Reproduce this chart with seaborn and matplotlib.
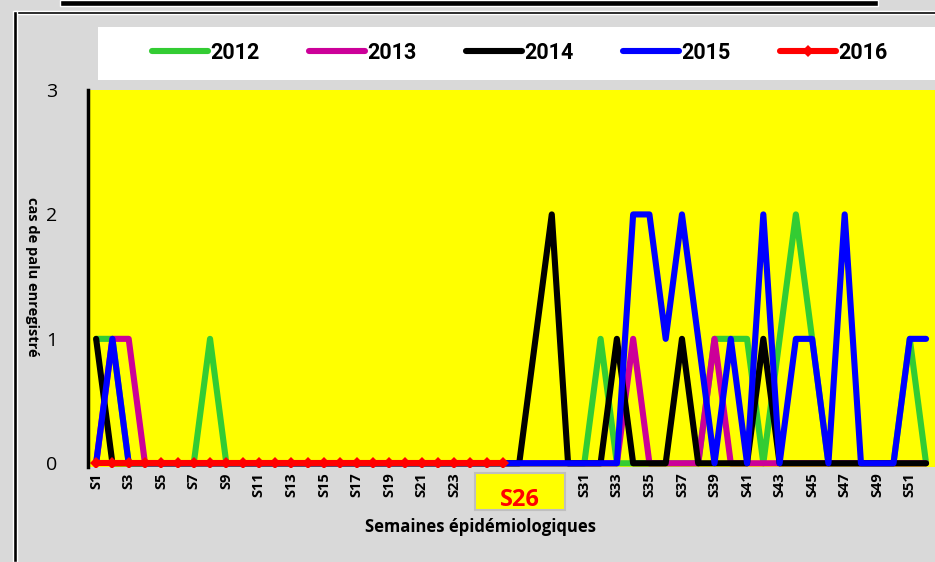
import matplotlib
matplotlib.use("Agg")
import matplotlib.pyplot as plt
import seaborn as sns
from matplotlib.patches import Rectangle

# données : cas de palu par semaine épidémiologique
semaines = list(range(1, 53))
cas_2012 = [1, 1, 0, 0, 0, 0, 0, 1, 0, 0,
            0, 0, 0, 0, 0, 0, 0, 0, 0, 0,
            0, 0, 0, 0, 0, 0, 0, 0, 0, 0,
            0, 1, 0, 0, 0, 0, 0, 0, 1, 1,
            1, 0, 1, 2, 1, 0, 0, 0, 0, 0,
            1, 0]
cas_2013 = [0, 1, 1, 0, 0, 0, 0, 0, 0, 0,
            0, 0, 0, 0, 0, 0, 0, 0, 0, 0,
            0, 0, 0, 0, 0, 0, 0, 0, 0, 0,
            0, 0, 0, 1, 0, 0, 0, 0, 1, 0,
            0, 0, 0, 0, 0, 0, 0, 0, 0, 0,
            0, 0]
cas_2014 = [1, 0, 0, 0, 0, 0, 0, 0, 0, 0,
            0, 0, 0, 0, 0, 0, 0, 0, 0, 0,
            0, 0, 0, 0, 0, 0, 0, 1, 2, 0,
            0, 0, 1, 0, 0, 0, 1, 0, 0, 0,
            0, 1, 0, 0, 0, 0, 0, 0, 0, 0,
            0, 0]
cas_2015 = [0, 1, 0, 0, 0, 0, 0, 0, 0, 0,
            0, 0, 0, 0, 0, 0, 0, 0, 0, 0,
            0, 0, 0, 0, 0, 0, 0, 0, 0, 0,
            0, 0, 0, 2, 2, 1, 2, 1, 0, 1,
            0, 2, 0, 1, 1, 0, 2, 0, 0, 0,
            1, 1]
semaines_2016 = list(range(1, 27))
cas_2016 = [0] * 26

annees = ['2012', '2013', '2014', '2015']
couleurs = ['#33cc33', '#cc0099', '#000000', '#0000ff']

tick_semaines = [1, 3, 5, 7, 9, 11, 13, 15, 17, 19, 21, 23,
                 31, 33, 35, 37, 39, 41, 43, 45, 47, 49, 51]
tick_labels = ['S' + str(s) for s in tick_semaines]

sns.set_style("white")
plt.rcParams['font.family'] = ['Open Sans', 'DejaVu Sans']
plt.rcParams['text.color'] = 'black'
plt.rcParams['xtick.color'] = 'black'
plt.rcParams['ytick.color'] = 'black'

fig = plt.figure(figsize=(9.35, 5.62), dpi=100)
fig.patch.set_facecolor('#d9d9d9')
ax = fig.add_axes([88 / 935, 1 - 467 / 562, 1 - 88 / 935, (467 - 90) / 562])
ax.set_facecolor('#ffff00')

for annee, cas, c in zip(annees, [cas_2012, cas_2013, cas_2014, cas_2015], couleurs):
    sns.lineplot(x=semaines, y=cas, color=c, lw=4.4, label=annee, ax=ax,
                 solid_joinstyle='round', solid_capstyle='round')
sns.lineplot(x=semaines_2016, y=cas_2016, color='#ff0000', lw=4.4, label='2016', ax=ax,
             marker='D', markersize=6, markeredgewidth=0,
             solid_joinstyle='round', solid_capstyle='round')

ax.set_xlim(0.5, 52.55)
ax.set_ylim(-0.03, 3)
ax.set_yticks([0, 1, 2, 3])
ax.set_yticklabels(['0', '1', '2', '3'], fontsize=14)
ax.set_xticks(tick_semaines)
ax.set_xticklabels(tick_labels, rotation=90, fontsize=10.5, fontweight='bold')
ax.tick_params(axis='both', length=0)
ax.tick_params(axis='y', pad=22)
ax.tick_params(axis='x', pad=4)
for s in ['top', 'right', 'bottom']:
    ax.spines[s].set_visible(False)
ax.spines['left'].set_color('black')
ax.spines['left'].set_linewidth(2.5)
ax.set_xlabel('')
ax.set_ylabel('')

# légende dans un cadre blanc
fig.patches.append(Rectangle((98 / 935, 1 - 80 / 562), 1, 53 / 562,
                             transform=fig.transFigure, facecolor='white',
                             edgecolor='none', zorder=-1))
leg = ax.legend(loc='center', bbox_to_anchor=(520 / 935, 1 - 53 / 562),
                bbox_transform=fig.transFigure, ncol=5, frameon=False,
                handlelength=2.6, handletextpad=0.1, columnspacing=2.3,
                prop={'family': ['Roboto', 'DejaVu Sans'],
                      'weight': 'bold', 'size': 15.5})
for t in leg.get_texts():
    t.set_color('black')

# cadre noir
fig.patches.append(Rectangle((60 / 935, 1 - 6 / 562), 818 / 935, 6 / 562,
                             transform=fig.transFigure, facecolor='black', zorder=-1))
fig.patches.append(Rectangle((14 / 935, 1 - 14 / 562), 1, 3 / 562,
                             transform=fig.transFigure, facecolor='black', zorder=-1))
fig.patches.append(Rectangle((13 / 935, 0), 4 / 935, 1 - 11 / 562,
                             transform=fig.transFigure, facecolor='black', zorder=-1))

# encadré S26
fig.patches.append(Rectangle((475 / 935, 1 - 510 / 562), 90 / 935, 37 / 562,
                             transform=fig.transFigure, facecolor='#ffff00',
                             edgecolor='#bfbfbf', lw=1.5, zorder=-1))
fig.text(520 / 935, 1 - 500 / 562, 'S26', color='#ff0000', fontsize=17,
         fontweight='bold', ha='center', va='center')

fig.text(480 / 935, 1 - 527 / 562, 'Semaines épidémiologiques', fontsize=12,
         fontweight='bold', ha='center', va='center')
fig.text(32 / 935, 1 - 277 / 562, 'cas de palu enregistré', fontsize=10.5,
         fontweight='bold', ha='center', va='center', rotation=270)

fig.savefig('out.png', dpi=100, facecolor=fig.get_facecolor())
